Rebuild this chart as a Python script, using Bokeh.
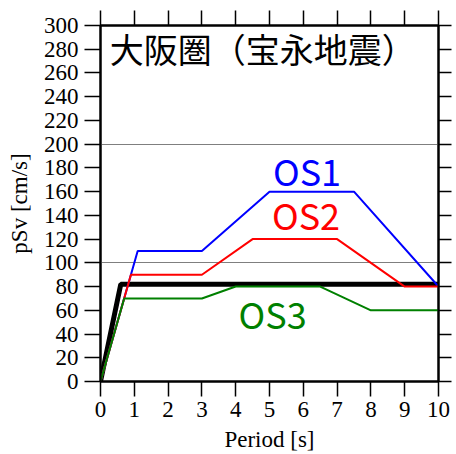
from bokeh.plotting import figure
from bokeh.models import LinearAxis, FixedTicker, Range1d, Label, CustomLabelingPolicy
from bokeh.embed import file_html
from bokeh.resources import INLINE

# ---- data ----
period_ref = [0, 0.6, 10]
psv_ref = [0, 82, 82]

period_os1 = [0, 1.1, 3, 5, 7.5, 10]
psv_os1 = [0, 110, 110, 160, 160, 80]

period_os2 = [0, 0.9, 3, 4.5, 7, 9, 10]
psv_os2 = [0, 90, 90, 120, 120, 80, 80]

period_os3 = [0, 0.7, 3, 4, 6.5, 8, 10]
psv_os3 = [0, 70, 70, 80, 80, 60, 60]

x_ticks = [0, 1, 2, 3, 4, 5, 6, 7, 8, 9, 10]
y_ticks = [0, 20, 40, 60, 80, 100, 120, 140, 160, 180, 200, 220, 240, 260, 280, 300]
grid_ticks = [100, 200]

title_text = "大阪圏（宝永地震）"
x_label = "Period [s]"
y_label = "pSv [cm/s]"

SERIF = "Liberation Serif"
SANS = "Noto Sans CJK JP"

p = figure(width=456, height=454, x_range=Range1d(0, 10), y_range=Range1d(0, 300),
           output_backend="svg", toolbar_location=None,
           min_border_left=100, min_border_right=16, min_border_top=25, min_border_bottom=73,
           x_axis_label=x_label, y_axis_label=y_label)

p.outline_line_color = "black"
p.outline_line_width = 2
p.background_fill_color = "white"
p.border_fill_color = "white"

def style_axis(ax, ticks, out, labels=True):
    ax.ticker = FixedTicker(ticks=ticks)
    ax.axis_line_color = "black"
    ax.axis_line_width = 2
    ax.major_tick_line_color = "black"
    ax.major_tick_line_width = 1.5
    ax.major_tick_out = out
    ax.major_tick_in = 0
    ax.minor_tick_line_color = None
    ax.major_label_text_font = SERIF
    ax.major_label_text_color = "black"
    if labels:
        ax.major_label_text_font_size = "23px"
        ax.major_label_standoff = 6
    else:
        ax.major_label_text_font_size = "1px"
        ax.major_label_standoff = 0
        ax.major_label_policy = CustomLabelingPolicy(code="return []")
    ax.axis_label_text_font = SERIF
    ax.axis_label_text_font_size = "23px"
    ax.axis_label_text_font_style = "normal"
    ax.axis_label_text_color = "black"

style_axis(p.xaxis[0], x_ticks, 15)
p.xaxis[0].major_label_standoff = 5
p.xaxis[0].axis_label_standoff = 7
style_axis(p.yaxis[0], y_ticks, 16)
p.yaxis[0].axis_label_standoff = 9

top = LinearAxis()
style_axis(top, x_ticks, 15, labels=False)
p.add_layout(top, "above")
right = LinearAxis()
style_axis(right, y_ticks, 13, labels=False)
p.add_layout(right, "right")

p.xgrid.visible = False
p.ygrid.ticker = FixedTicker(ticks=grid_ticks)
p.ygrid.grid_line_color = "#7f7f7f"
p.ygrid.grid_line_width = 1

p.line(period_ref, psv_ref, line_color="black", line_width=5)
p.line(period_os1, psv_os1, line_color="#0000ff", line_width=2)
p.line(period_os2, psv_os2, line_color="#ff0000", line_width=2)
p.line(period_os3, psv_os3, line_color="#008000", line_width=2)

p.add_layout(Label(x=6.11, y=178.5, text="OS1", text_color="#0000ff", text_font=SANS,
                   text_font_size="36px", text_align="center", text_baseline="alphabetic"))
p.add_layout(Label(x=6.08, y=141.5, text="OS2", text_color="#ff0000", text_font=SANS,
                   text_font_size="36px", text_align="center", text_baseline="alphabetic"))
p.add_layout(Label(x=5.09, y=58, text="OS3", text_color="#008000", text_font=SANS,
                   text_font_size="36px", text_align="center", text_baseline="alphabetic"))
p.add_layout(Label(x=0.27, y=281, text=title_text, text_color="black", text_font=SANS,
                   text_font_size="34px", text_align="left", text_baseline="alphabetic"))

open("out.html", "w").write(file_html(p, INLINE))
